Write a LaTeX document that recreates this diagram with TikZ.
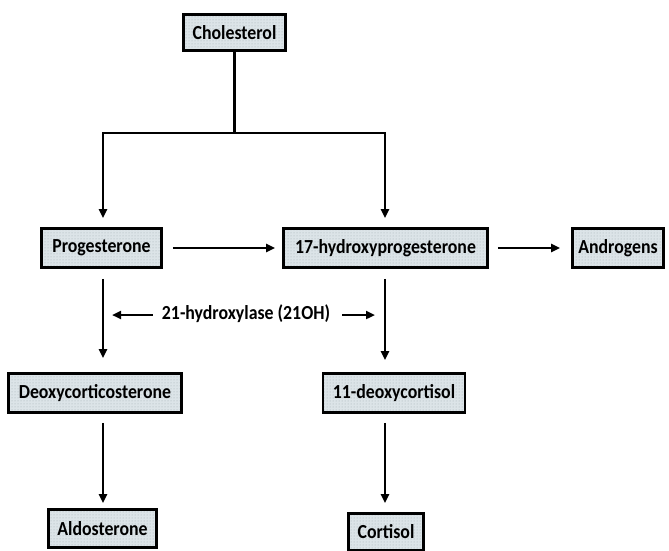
\documentclass[tikz,border=0pt]{standalone}
\usepackage{fontspec}
\setmainfont{Carlito}
\usetikzlibrary{arrows.meta,patterns}
\definecolor{boxfill}{RGB}{220,228,232}
\definecolor{boxdots}{RGB}{160,172,180}
\newcommand{\tallt}[1]{\scalebox{1}[1.12]{#1}}
\begin{document}
\begin{tikzpicture}[x=1pt,y=-1pt,
  every node/.style={font=\bfseries\fontsize{17.8}{20}\selectfont},
  sbox/.style={draw=black,line width=2.8pt,inner sep=0pt,
    preaction={fill=boxfill},pattern=dots,pattern color=boxdots},
  conn/.style={line width=2.4pt,line join=miter},
  arr/.style={conn,-{Triangle[length=9pt,width=8pt]}}]
\useasboundingbox (0,0) rectangle (669,551);
% boxes
\node[sbox,minimum width=102pt,minimum height=36pt] (chol) at (234.5,32.5) {\tallt{Cholesterol}};
\node[sbox,minimum width=120pt,minimum height=39pt] (prog) at (101.5,248) {\tallt{Progesterone}};
\node[sbox,minimum width=204pt,minimum height=39pt] (ohp) at (385.5,248) {\tallt{17-hydroxyprogesterone}};
\node[sbox,minimum width=91pt,minimum height=39pt] (andr) at (618,248) {\tallt{Androgens}};
\node[sbox,minimum width=173pt,minimum height=39pt] (deoxy) at (95,393) {\tallt{Deoxycorticosterone}};
\node[sbox,minimum width=142pt,minimum height=39pt] (dcort) at (394,393) {\tallt{11-deoxycortisol}};
\node[sbox,minimum width=108pt,minimum height=38pt] (aldo) at (102.5,528.5) {\tallt{Aldosterone}};
\node[sbox,minimum width=75pt,minimum height=37pt] (cort) at (386,532) {\tallt{Cortisol}};
% column coordinates
\coordinate (colL) at (103,0);
\coordinate (colR) at (385,0);
\coordinate (split) at (234.5,133);
% branching from cholesterol
\draw[conn] (chol.south) -- (split);
\draw[arr,shorten >=9pt] (split) -| (prog.north -| colL);
\draw[arr,shorten >=9pt] (split) -| (ohp.north -| colR);
% horizontal arrows
\draw[arr,shorten <=10pt,shorten >=7pt] (prog.east) -- (ohp.west);
\draw[arr,shorten <=9pt,shorten >=11pt] (ohp.east) -- (andr.west);
% vertical arrows
\draw[arr,shorten <=10pt,shorten >=14pt] (prog.south -| colL) -- (deoxy.north -| colL);
\draw[arr,shorten <=10pt,shorten >=12pt] (ohp.south -| colR) -- (dcort.north -| colR);
\draw[arr,shorten <=9pt,shorten >=5pt] (deoxy.south -| colL) -- (aldo.north -| colL);
\draw[arr,shorten <=9pt,shorten >=9pt] (dcort.south -| colR) -- (cort.north -| colR);
% enzyme label
\node[inner sep=0pt] (lab) at (246,314) {\tallt{21-hydroxylase (21OH)}};
\coordinate (la) at (112,315);
\coordinate (ra) at (375,315);
\draw[arr,shorten <=9pt] (lab.west |- la) -- (la);
\draw[arr,shorten <=12pt] (lab.east |- ra) -- (ra);
\end{tikzpicture}
\end{document}
